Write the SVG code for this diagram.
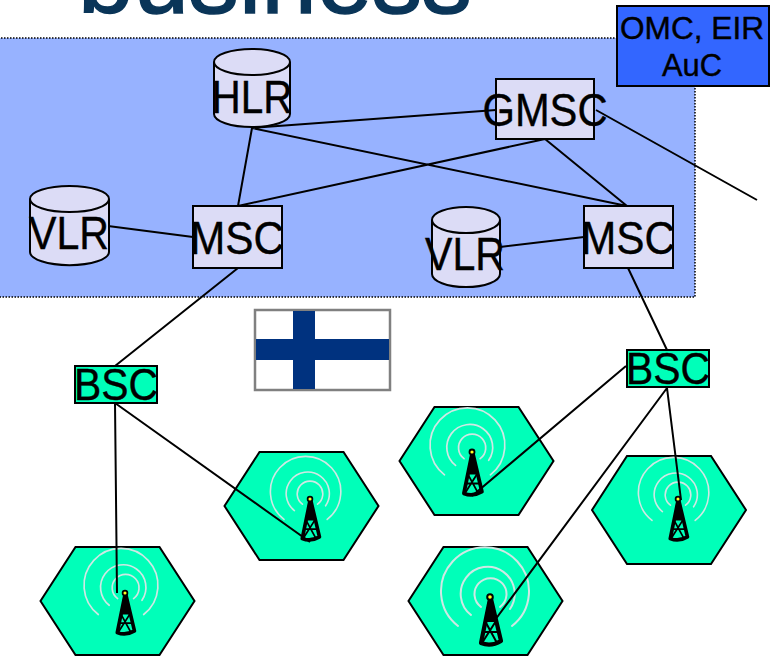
<svg xmlns="http://www.w3.org/2000/svg" width="770" height="664" viewBox="0 0 770 664">
<style>
text{font-family:"Liberation Sans",Arial,sans-serif;fill:#000;text-anchor:middle;stroke:#000;stroke-width:.4}
.box{fill:#dcdcf6;stroke:#000;stroke-width:2}
.bsc{fill:#00ffb9;stroke:#000;stroke-width:2}
.hex{fill:#00ffb9;stroke:#000;stroke-width:2}
.c{stroke:#000;stroke-width:2;fill:none}
.t{font-size:46px}
.wave{fill:none;stroke:#cfe8e4;stroke-width:2;stroke-linecap:round}
.leg{fill:none;stroke:#000;stroke-width:4.200;stroke-linejoin:round;stroke-linecap:round}
.brace{fill:none;stroke:#000;stroke-width:2}
</style>
<defs>
<filter id="soft" x="-5%" y="-5%" width="110%" height="110%"><feGaussianBlur stdDeviation="0.7"/></filter>
<g id="tower">
<path d="M0 2L-9 46Q1 50 11 44L1 2" class="leg"/>
<path d="M-2 4L-5 24L5 24L2 4Z" fill="#000"/>
<path class="brace" d="M-4 24L5 24M-5 24L7 46M6 24L-8 46M-7 35L8 35"/>
<circle r="2.800" fill="#ffff20" stroke="#000" stroke-width="2"/>
</g>
<g id="waves">
<path class="wave" d="M-30 28A44 44 0 1 1 24 28M-17 17A27 27 0 1 1 22 11M-7 9A16 16 0 1 1 12 9"/>
</g>
<path id="hexagon2" d="M-42 -54H42L77 0L42 54H-42L-77 0Z"/>
</defs>
<rect width="770" height="664" fill="#fff"/>
<text x="275" y="13" font-size="100" textLength="394" lengthAdjust="spacingAndGlyphs" style="fill:#0a3558;stroke:#0a3558;stroke-width:1.5">business</text>
<g id="network-area"><rect x="-2" y="38" width="697" height="259" fill="#97b2ff" stroke="#000" stroke-width="1.500" stroke-dasharray="1.5 1.5"/></g>
<g id="flag">
<rect x="255" y="310" width="135" height="80" fill="#fff" stroke="#808080" stroke-width="2.500"/>
<g filter="url(#soft)">
<rect x="293" y="311" width="22" height="78" fill="#00327f"/>
<rect x="256" y="339" width="133" height="21" fill="#00327f"/>
</g>
</g>
<g id="cell-1"><use href="#hexagon2" x="117.500" y="601" class="hex"/>
<use href="#waves" transform="translate(123.500 591) scale(.84)"/>
<use href="#tower" transform="translate(125 593) scale(.86)"/></g>
<g id="cell-2"><use href="#hexagon2" x="301.500" y="506" class="hex"/>
<use href="#waves" transform="translate(308 497) scale(.8)"/>
<use href="#tower" transform="translate(310 499) scale(.86)"/></g>
<g id="cell-3"><use href="#hexagon2" x="476.500" y="461" class="hex"/>
<use href="#waves" transform="translate(470 451) scale(.85)"/>
<use href="#tower" transform="translate(472 452) scale(.9)"/></g>
<g id="cell-4"><use href="#hexagon2" x="669" y="510" class="hex"/>
<use href="#waves" transform="translate(676 498) scale(.8)"/>
<use href="#tower" transform="translate(678 499) scale(.86)"/></g>
<g id="cell-5"><use href="#hexagon2" x="485.500" y="601" class="hex"/>
<use href="#waves" transform="translate(488 598)"/>
<use href="#tower" transform="translate(490 597)"/></g>
<g id="connectors" class="c">
<path d="M252 128L238 206M252 128L627 206M252 128L496 110M545 139L238 206M545 139L627 206M596 110L757 200M108 226L193 237M500 247L584 237M238 268L115 366M628 268L667 350M115 403L117 593M115 403L310 542M626 366L472 496M667 388L681 500M667 388L495 620"/>
</g>
<g id="hlr"><path class="box" d="M214 62V114A38 13 0 0 0 290 114V62"/><ellipse class="box" cx="252" cy="62" rx="38" ry="13"/><text class="t" x="252" y="113" textLength="81" lengthAdjust="spacingAndGlyphs">HLR</text></g>
<g id="gmsc"><rect class="box" x="496" y="79" width="98" height="60"/><text class="t" x="545" y="126" textLength="125" lengthAdjust="spacingAndGlyphs">GMSC</text></g>
<g id="vlr-1"><path class="box" d="M30 199V252A39 13 0 0 0 109 252V199"/><ellipse class="box" cx="69.500" cy="199" rx="39.500" ry="13"/><text class="t" x="69" y="249" textLength="80" lengthAdjust="spacingAndGlyphs">VLR</text></g>
<g id="msc-1"><rect class="box" x="193" y="206" width="89" height="62"/><text class="t" x="237" y="254" textLength="94" lengthAdjust="spacingAndGlyphs">MSC</text></g>
<g id="vlr-2"><path class="box" d="M432 220V274A34 13 0 0 0 500 274V220"/><ellipse class="box" cx="466" cy="220" rx="34" ry="13"/><text class="t" x="465" y="270" textLength="80" lengthAdjust="spacingAndGlyphs">VLR</text></g>
<g id="msc-2"><rect class="box" x="584" y="206" width="89" height="62"/><text class="t" x="628" y="254" textLength="94" lengthAdjust="spacingAndGlyphs">MSC</text></g>
<g id="bsc-1"><rect class="bsc" x="75" y="366" width="82" height="37"/><text x="116" y="400" font-size="44" textLength="84" lengthAdjust="spacingAndGlyphs">BSC</text></g>
<g id="bsc-2"><rect class="bsc" x="627" y="350" width="82" height="37"/><text x="668" y="384" font-size="44" textLength="84" lengthAdjust="spacingAndGlyphs">BSC</text></g>
<g id="omc"><rect x="617" y="6" width="152" height="80" fill="#3366ff" stroke="#000" stroke-width="2"/><text x="692" y="39" font-size="31" textLength="144" lengthAdjust="spacingAndGlyphs">OMC, EIR</text><text x="692" y="76" font-size="31" textLength="60" lengthAdjust="spacingAndGlyphs">AuC</text></g>
</svg>
